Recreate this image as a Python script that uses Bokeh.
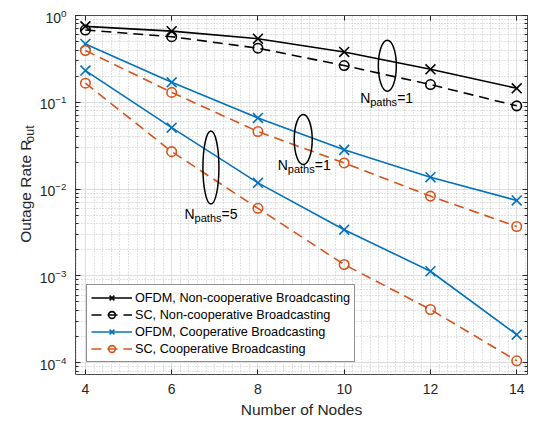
import math
from bokeh.plotting import figure
from bokeh.layouts import row
from bokeh.models import (Range1d, LinearAxis, SingleIntervalTicker, LogTicker,
                          Legend, LegendItem, Label, CustomJSTickFormatter)
from bokeh.core.properties import value
from bokeh.embed import file_html
from bokeh.resources import INLINE

# ---------------- data ----------------
nodes = [4, 6, 8, 10, 12, 14]
ofdm_noncoop = [0.75, 0.66, 0.54, 0.38, 0.24, 0.145]
sc_noncoop = [0.68, 0.57, 0.42, 0.265, 0.16, 0.091]
ofdm_coop_p1 = [0.47, 0.17, 0.066, 0.0283, 0.0137, 0.0074]
sc_coop_p1 = [0.395, 0.13, 0.046, 0.020, 0.0083, 0.0037]
ofdm_coop_p5 = [0.232, 0.051, 0.0118, 0.0034, 0.00113, 0.00021]
sc_coop_p5 = [0.166, 0.027, 0.006, 0.00135, 0.00041, 0.000105]

legend_labels = ["OFDM, Non-cooperative Broadcasting",
                 "SC, Non-cooperative Broadcasting",
                 "OFDM, Cooperative Broadcasting",
                 "SC, Cooperative Broadcasting"]

# annotation ellipses and texts
ell_x = [11.0, 9.05, 6.91]
ell_y = [0.263, 0.0372, 0.0177]
ell_w = [18, 18, 16]
ell_h = [51, 50, 73]
ann_x = [10.37, 8.46, 6.30]
ann_y = [0.111, 0.019, 0.00522]
ann_n = ["=1", "=1", "=5"]

FONT = "Liberation Sans"
BLUE = "#0072BD"
ORANGE = "#D95319"
AX = "#262626"
SIDE_W = 36
W, H = 533, 421

# ---------- narrow panel carrying the rotated y-axis title ----------
side = figure(width=SIDE_W, height=H, x_range=Range1d(0, SIDE_W), y_range=Range1d(0, H),
              output_backend="svg", toolbar_location=None,
              x_axis_location=None, y_axis_location=None,
              min_border_left=0, min_border_right=0, min_border_top=0, min_border_bottom=0)
side.outline_line_color = None
side.xgrid.visible = False
side.ygrid.visible = False
# centre-anchored so the rotation is about the text centre
side.text(x=[24.7], y=[H - 206], text=["Outage Rate R"], angle=math.pi / 2,
          text_font=value(FONT), text_font_size="15.5px", text_color=AX,
          text_baseline="middle", text_align="center")
side.text(x=[29.5], y=[H - 139], text=["out"], angle=math.pi / 2,
          text_font=value(FONT), text_font_size="12.4px", text_color=AX,
          text_baseline="middle", text_align="center")

# ---------------- main plot ----------------
p = figure(width=W - SIDE_W, height=H, y_axis_type="log",
           x_range=Range1d(3.77, 14.25), y_range=Range1d(7.3e-5, 1.0),
           output_backend="svg", toolbar_location=None,
           min_border_left=73 - SIDE_W, min_border_right=6, min_border_top=15,
           min_border_bottom=47)
p.outline_line_color = "#4d4d4d"
p.outline_line_width = 1

xt = SingleIntervalTicker(interval=2, num_minor_ticks=10)
p.xaxis.ticker = xt
p.xgrid.ticker = xt
for ax in p.xaxis:
    ax.major_tick_in = 5
    ax.major_tick_out = 0
    ax.minor_tick_in = 0
    ax.minor_tick_out = 0
    ax.axis_line_color = None
    ax.major_tick_line_color = AX
    ax.major_label_text_font = FONT
    ax.major_label_text_font_size = "14px"
    ax.major_label_text_color = AX
    ax.major_label_standoff = 9
    ax.axis_label = "Number of Nodes"
    ax.axis_label_text_font = FONT
    ax.axis_label_text_font_size = "15.5px"
    ax.axis_label_text_font_style = "normal"
    ax.axis_label_text_color = AX
    ax.axis_label_standoff = 4
for ax in p.yaxis:
    ax.major_tick_in = 5
    ax.major_tick_out = 0
    ax.minor_tick_in = 3
    ax.minor_tick_out = 0
    ax.axis_line_color = None
    ax.major_tick_line_color = AX
    ax.minor_tick_line_color = AX
    ax.major_label_text_font = FONT
    ax.major_label_text_font_size = "14px"
    ax.major_label_text_color = AX
    ax.major_label_standoff = 9

blank = CustomJSTickFormatter(code="return ''")
top = LinearAxis(ticker=SingleIntervalTicker(interval=2, num_minor_ticks=10),
                 formatter=blank,
                 major_tick_in=5, major_tick_out=0, minor_tick_in=0, minor_tick_out=0,
                 axis_line_color=None, major_tick_line_color=AX,
                 major_label_text_font_size="1px", major_label_standoff=0)
p.add_layout(top, "above")
right = LinearAxis(ticker=LogTicker(num_minor_ticks=10), formatter=blank,
                   major_tick_in=5, major_tick_out=0, minor_tick_in=3, minor_tick_out=0,
                   axis_line_color=None, major_tick_line_color=AX, minor_tick_line_color=AX,
                   major_label_text_font_size="1px", major_label_standoff=0)
p.add_layout(right, "right")

for g in (p.xgrid, p.ygrid):
    g.grid_line_color = "#dedede"
    g.grid_line_width = 1
    g.minor_grid_line_color = "#c4c4c4"
    g.minor_grid_line_dash = "1 2"
    g.minor_grid_line_width = 1

series = [
    (ofdm_noncoop, "black", "solid", "x"),
    (sc_noncoop, "black", "10 6", "circle"),
    (ofdm_coop_p1, BLUE, "solid", "x"),
    (sc_coop_p1, ORANGE, "10 6", "circle"),
    (ofdm_coop_p5, BLUE, "solid", "x"),
    (sc_coop_p5, ORANGE, "10 6", "circle"),
]
rends = []
for vals, col, dash, mk in series:
    lr = p.line(nodes, vals, line_color=col, line_width=1.6, line_dash=dash)
    if mk == "x":
        sr = p.scatter(nodes, vals, marker="x", size=14, line_color=col, line_width=1.6)
    else:
        sr = p.scatter(nodes, vals, marker="circle", size=9.5, line_color=col,
                       fill_color=None, line_width=1.6)
    rends.append([lr, sr])

items = [LegendItem(label=legend_labels[i], renderers=rends[i]) for i in range(4)]
legend = Legend(items=items, location=(11, 12), padding=4, spacing=0, margin=0,
                glyph_width=41, glyph_height=17, label_height=17, label_standoff=3,
                label_text_font=FONT, label_text_font_size="12.7px", label_text_color="black",
                border_line_color=AX, border_line_width=1, background_fill_color="white",
                background_fill_alpha=1.0)
p.add_layout(legend)

p.ellipse(x=ell_x, y=ell_y, width=ell_w, height=ell_h, width_units="screen",
          height_units="screen", fill_color=None, line_color="black", line_width=1.5)

for x, y, n in zip(ann_x, ann_y, ann_n):
    p.add_layout(Label(x=x, y=y, text="N", text_font=FONT, text_font_size="14px",
                       text_color="black", text_baseline="alphabetic", text_align="left"))
    p.add_layout(Label(x=x, y=y, x_offset=10, y_offset=-4, text="paths", text_font=FONT,
                       text_font_size="11px", text_color="black",
                       text_baseline="alphabetic", text_align="left"))
    p.add_layout(Label(x=x, y=y, x_offset=37, text=n, text_font=FONT,
                       text_font_size="14px", text_color="black",
                       text_baseline="alphabetic", text_align="left"))

layout = row(side, p, spacing=0)
open("out.html", "w").write(file_html(layout, INLINE))
